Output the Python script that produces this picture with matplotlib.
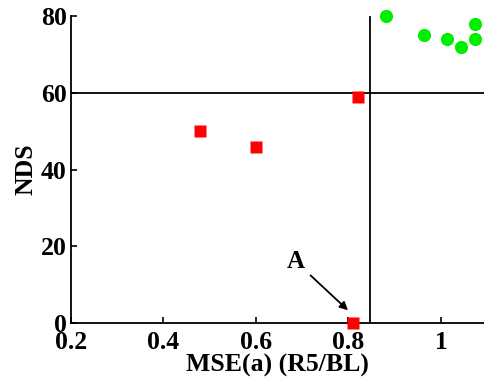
import matplotlib
matplotlib.use('Agg')
import matplotlib.pyplot as plt

# data
red_x = [0.48, 0.60, 0.82, 0.81]
red_y = [50, 46, 59, 0]
green_x = [0.88, 0.963, 1.013, 1.043, 1.074, 1.074]
green_y = [80, 75, 74, 72, 78, 74]
x_cut = 0.846
y_cut = 60
xticks = [0.2, 0.4, 0.6, 0.8, 1.0]
xticklabels = ['0.2', '0.4', '0.6', '0.8', '1']
yticks = [0, 20, 40, 60, 80]

plt.rcParams['font.family'] = ['Liberation Serif', 'DejaVu Serif']
plt.rcParams['font.weight'] = 'bold'

fig = plt.figure(figsize=(4.85, 3.84), dpi=100)
ax = fig.add_axes([0.146, 0.159, 0.854, 0.799])

ax.axhline(y_cut, color='black', lw=1.3, zorder=1)
ax.plot([x_cut, x_cut], [0, 79.7], color='black', lw=1.3, zorder=1)

ax.plot(red_x, red_y, 's', color='red', ms=8.5, mec='none', zorder=3, clip_on=False)
ax.plot(green_x, green_y, 'o', color='#00ee00', ms=9.5, mec='none', zorder=3, clip_on=False)

ax.annotate('A', xy=(0.799, 3.3), xytext=(0.686, 16), fontsize=18, fontweight='bold',
            ha='center', va='center',
            arrowprops=dict(arrowstyle='-|>', color='black', lw=1.3, mutation_scale=12,
                            shrinkA=3, shrinkB=0))

ax.set_xlim(0.2, 1.095)
ax.set_ylim(0, 80)
ax.set_xticks(xticks)
ax.set_xticklabels(xticklabels)
ax.set_yticks(yticks)
ax.spines['top'].set_visible(False)
ax.spines['right'].set_visible(False)
for s in ['left', 'bottom']:
    ax.spines[s].set_linewidth(1.3)
ax.tick_params(direction='in', length=4, width=1.2, labelsize=18.5)
ax.tick_params(axis='x', pad=6)
ax.tick_params(axis='y', pad=3)
ax.set_xlabel('MSE(a) (R5/BL)', fontsize=18.5, fontweight='bold', labelpad=0)
ax.set_ylabel('NDS', fontsize=18.5, fontweight='bold', labelpad=2)

fig.savefig('out.png', dpi=100)
